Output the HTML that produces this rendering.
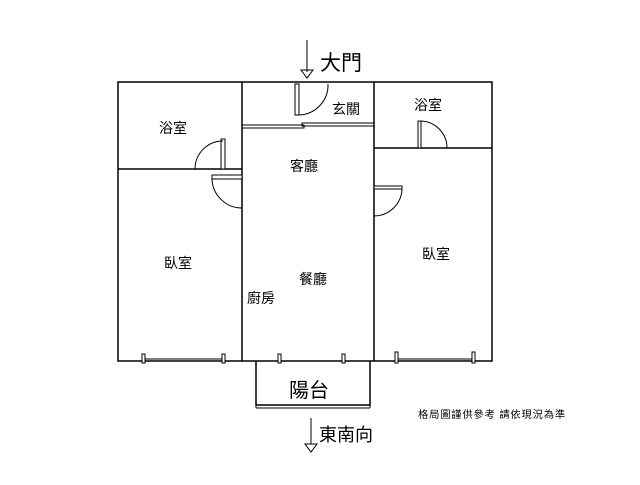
<!DOCTYPE html>
<html><head><style>
body{margin:0;background:#fff;}
svg text{font-family:"Liberation Sans","Noto Sans CJK TC",sans-serif;fill:#000;}
</style></head><body>
<svg width="640" height="480" viewBox="0 0 640 480" xmlns="http://www.w3.org/2000/svg">
<g stroke="#000" fill="none" stroke-width="1.5">
<rect x="118" y="82" width="374" height="279"/>
<line x1="242" y1="82" x2="242" y2="361"/>
<line x1="374" y1="82" x2="374" y2="361"/>
<line x1="118" y1="169" x2="242" y2="169"/>
<line x1="374" y1="148" x2="492" y2="148"/>
<rect x="242" y="125" width="62" height="3" stroke-width="1"/>
<rect x="302" y="123" width="72" height="3" stroke-width="1"/>
<line x1="143" y1="359" x2="223" y2="359" stroke-width="1"/>
<line x1="396" y1="359" x2="473" y2="359" stroke-width="1"/>
<polyline points="256,361 256,405 370,405 370,361"/>
<line x1="256" y1="408" x2="370" y2="408" stroke-width="1"/>
<line x1="256" y1="405" x2="256" y2="408" stroke-width="1"/>
<line x1="370" y1="405" x2="370" y2="408" stroke-width="1"/>
</g>
<g fill="#fff" stroke="#000" stroke-width="1">
<rect x="142" y="354" width="3" height="9"/>
<rect x="222" y="354" width="3" height="9"/>
<rect x="278" y="354" width="3" height="9"/>
<rect x="342" y="354" width="3" height="9"/>
<rect x="395" y="352" width="3" height="11"/>
<rect x="472" y="352" width="3" height="11"/>
<rect x="295" y="84" width="4" height="31"/>
<rect x="221" y="139" width="4" height="30"/>
<rect x="212" y="175" width="30" height="4"/>
<rect x="418" y="121" width="3" height="27"/>
<rect x="374" y="186" width="28" height="3"/>
</g>
<g stroke="#000" fill="none" stroke-width="1">
<path d="M299,115 A30,30 0 0 0 328,84"/>
<path d="M195,169 A28,28 0 0 1 223,141"/>
<path d="M212,179 A30,30 0 0 0 242,208"/>
<path d="M421,121 A27,27 0 0 1 447,148"/>
<path d="M402,189 A28,28 0 0 1 374,216"/>
<line x1="307" y1="40" x2="307" y2="72"/>
<polygon points="301,70 313,70 307,78"/>
<line x1="311" y1="418" x2="311" y2="444"/>
<polygon points="305,444 317,444 311,452"/>
</g>
<text x="320" y="70" font-size="21">大門</text>
<text x="159" y="133" font-size="14">浴室</text>
<text x="332" y="114" font-size="14">玄關</text>
<text x="414" y="110" font-size="14">浴室</text>
<text x="290" y="171" font-size="14">客廳</text>
<text x="164" y="268" font-size="14">臥室</text>
<text x="422" y="259" font-size="14">臥室</text>
<text x="299" y="284" font-size="14">餐廳</text>
<text x="247" y="303" font-size="14">廚房</text>
<text x="289" y="397" font-size="20">陽台</text>
<text x="418" y="418" font-size="10.3" letter-spacing="0.8">格局圖謹供參考 請依現況為準</text>
<text x="319" y="441" font-size="18">東南向</text>
</svg>
</body></html>
